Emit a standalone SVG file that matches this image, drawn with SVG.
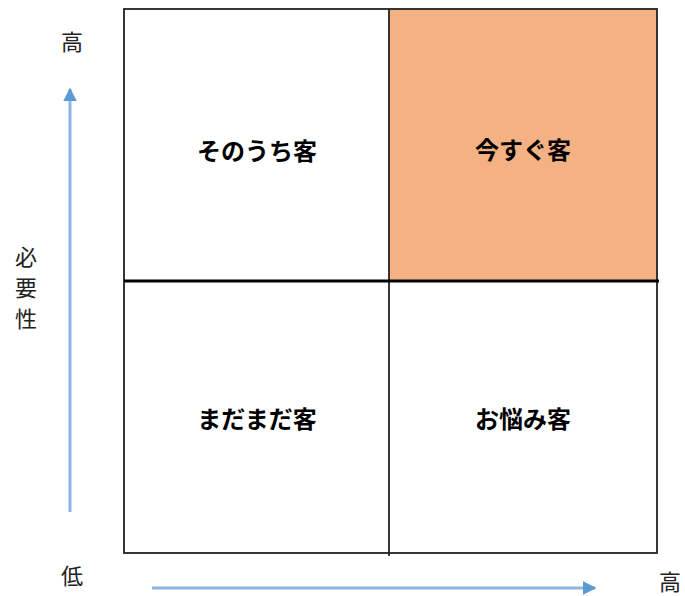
<svg xmlns="http://www.w3.org/2000/svg" width="685" height="596" viewBox="0 0 685 596">
<defs>
<style>
.q{font-family:"Noto Sans CJK JP","Noto Sans CJK SC",sans-serif;font-weight:bold;font-size:24px;fill:#000;text-anchor:middle;dominant-baseline:central}
.ax{font-family:"Noto Sans CJK JP","Noto Sans CJK SC",sans-serif;font-size:22px;fill:#222;text-anchor:middle;dominant-baseline:central}
.arr{stroke:#8DB4E2;stroke-width:3;fill:none}
</style>
<marker id="ah" viewBox="0 0 10 10" refX="9" refY="5" markerWidth="4.5" markerHeight="4.5" orient="auto" markerUnits="strokeWidth">
<path d="M0,0 L10,5 L0,10 Z" fill="#5B9BD5"/>
</marker>
</defs>
<rect width="685" height="596" fill="#fff"/>
<g id="q-sonouchi"><rect x="124" y="9" width="265" height="272" fill="#fff"/><text class="q" x="257" y="149">そのうち客</text></g>
<g id="q-imasugu"><rect x="389" y="9" width="268" height="272" fill="#F4B183"/><text class="q" x="523" y="148">今すぐ客</text></g>
<g id="q-madamada"><rect x="124" y="281" width="265" height="272" fill="#fff"/><text class="q" x="257" y="417">まだまだ客</text></g>
<g id="q-onayami"><rect x="389" y="281" width="268" height="272" fill="#fff"/><text class="q" x="523" y="417">お悩み客</text></g>
<g id="grid" stroke="#222" fill="none">
<rect x="124" y="9" width="533" height="544" stroke-width="1.8"/>
<line x1="389" y1="9" x2="389" y2="556" stroke-width="1.8"/>
<line x1="124" y1="281" x2="659" y2="281" stroke-width="2.8" stroke="#000"/>
</g>
<g id="connectors">
<line class="arr" x1="70" y1="512" x2="70" y2="89" marker-end="url(#ah)"/>
<line class="arr" x1="152" y1="588" x2="595" y2="588" marker-end="url(#ah)"/>
</g>
<g id="labels">
<text class="ax" x="72" y="40">高</text>
<text class="ax" x="26" y="255">必</text>
<text class="ax" x="26" y="286">要</text>
<text class="ax" x="26" y="317">性</text>
<text class="ax" x="72" y="574">低</text>
<text class="ax" x="670" y="580">高</text>
</g>
</svg>
